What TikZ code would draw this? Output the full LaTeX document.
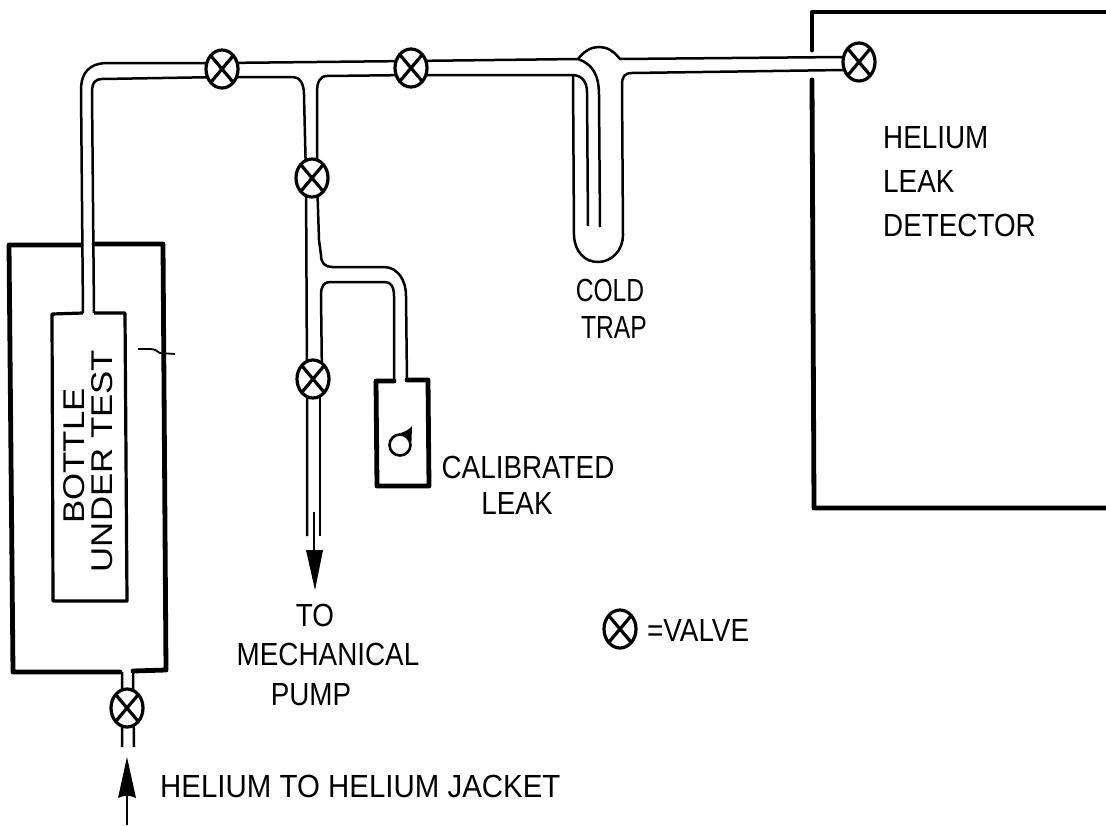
\documentclass[tikz,border=0pt]{standalone}
\usepackage{fontspec}
\setmainfont[FakeStretch=0.87]{Liberation Sans}
\usetikzlibrary{shapes.geometric}
\newcommand{\labsize}[1]{\fontsize{32}{#1}\selectfont}
\tikzset{
  tube/.style={line width=2.5pt,line join=round},
  wall/.style={line width=4.8pt,line join=round,line cap=round},
  valve/.style={draw,ellipse,fill=white,line width=3.2pt,minimum width=32pt,minimum height=38pt,inner sep=0pt,
    path picture={\draw[line width=3.2pt]
      (path picture bounding box.north west)--(path picture bounding box.south east)
      (path picture bounding box.north east)--(path picture bounding box.south west);}},
  lab/.style={align=center,inner sep=0pt},
}
\begin{document}
\begin{tikzpicture}[x=1pt,y=-1pt]
\useasboundingbox (0,0) rectangle (1106,825);
% walls
\draw[wall] (81,245) -- (9,245) -- (13,672) -- (120,672);
\draw[wall] (94,244) -- (163,244) -- (166,670) -- (133,671);
\draw[wall] (812,50) -- (812,12) -- (1106,12);
\draw[wall] (812,80) -- (814,508) -- (1106,508);
\draw[wall] (394,381) -- (376,381) -- (377,486) -- (429,486) -- (428,380) -- (407,380);
% bottle
\draw[tube,line width=3.2pt] (83,313) -- (52,314) -- (53,601) -- (127,601) -- (125,313) -- (94,313);
\draw[line width=1.8pt] (138,349) -- (150,349) .. controls (155,349) and (157,351) .. (160,353) -- (175,354);
% tubes
\draw[tube] (83,313) -- (81,90) .. controls (81,72) and (90,64) .. (105,63) -- (222,63) -- (411,61) -- (578,59)
  .. controls (585,50) and (592,47) .. (599,47) .. controls (606,47) and (613,50) .. (620,59) -- (843,57);
\draw[tube] (578,59) .. controls (592,64) and (599,74) .. (599,95) -- (600,227);
\draw[tube] (94,313) -- (92,92) .. controls (92,82) and (96,79) .. (102,79) -- (222,77) -- (293,77)
  .. controls (300,77) and (304,84) .. (304,95) -- (306,178) -- (307,379) -- (307,536);
\draw[tube] (411,75) -- (327,76) .. controls (320,76) and (317,82) .. (317,92) -- (317,178)
  -- (319,240) -- (321,255) .. controls (321,263) and (325,267) .. (332,267) -- (385,267)
  .. controls (398,268) and (406,280) .. (406,296) -- (407,381);
\draw[tube] (322,379) -- (321,295) .. controls (321,286) and (324,282) .. (330,282) -- (385,282)
  .. controls (391,282) and (394,287) .. (394,296) -- (394,381);
\draw[tube] (320,379) -- (320,536);
\draw[tube] (411,75) -- (572,75) .. controls (582,75) and (587,82) .. (587,92) -- (588,226);
\draw[tube] (573,76) -- (574,236) .. controls (575,252) and (585,262) .. (598,262)
  .. controls (612,262) and (623,250) .. (623,235) -- (622,85) .. controls (622,76) and (625,73) .. (632,73) -- (843,70);
% lower valve stubs
\draw[tube] (122,672) -- (122,747) (133,672) -- (134,747);
% calibrated leak symbol
\draw[line width=2.6pt] (400,445) circle[radius=10.5pt];
\fill (399,433.5) .. controls (404,432) and (409,430) .. (412,426) -- (411.5,441) -- (407,437) -- cycle;
% arrows
\draw[line width=2.5pt] (314,512) -- (314,555);
\fill (306,550) -- (323,550) -- (315,590) -- cycle;
\draw[line width=2.5pt] (127,790) -- (127,825);
\fill (127,757) -- (136,798) .. controls (130,795) and (124,795) .. (118,798) -- cycle;
% valves
\node[valve] (v1) at (222,69) {};
\node[valve] (v2) at (411,68) {};
\node[valve] (v3) at (312,178) {};
\node[valve] (v4) at (313,379) {};
\node[valve] (v5) at (859,62) {};
\node[valve] (v6) at (127,708) {};
\node[valve] (v7) at (620,629) {};
% labels
\node[lab,rotate=90,font={\fontsize{30}{28.5}\selectfont\addfontfeature{FakeStretch=1.16}}] (bottle) at (88,461) {\hspace*{10pt}BOTTLE\\UNDER TEST};
\node[lab,align=left,anchor=west,font=\labsize{44}] (detector) at (883,182) {HELIUM\\LEAK\\DETECTOR};
\node[lab,font={\labsize{37}\addfontfeature{FakeStretch=0.77}}] (cold) at (612,308.5) {COLD\hspace*{4pt}\\\hspace*{4pt}TRAP};
\node[lab,font=\labsize{36}] (leak) at (528,485) {CALIBRATED\\LEAK\hspace*{22pt}};
\node[lab,font=\labsize{39.5}] (pump) at (328,654.5) {TO\hspace*{26pt}\\MECHANICAL\\PUMP\hspace*{34pt}};
\node[lab,anchor=west,font=\labsize{36}] (eq) at (647,630) {=VALVE};
\node[lab,anchor=west,font={\labsize{36}\addfontfeature{FakeStretch=0.92}}] (jacket) at (160,786) {HELIUM TO HELIUM JACKET};
\end{tikzpicture}
\end{document}
